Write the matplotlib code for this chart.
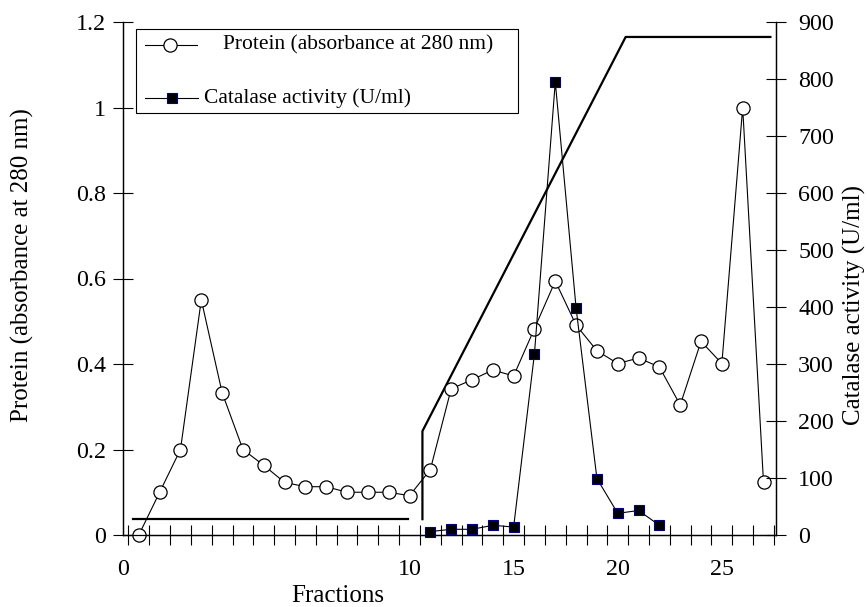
import matplotlib
matplotlib.use("Agg")
import matplotlib.pyplot as plt
from matplotlib.lines import Line2D
from matplotlib.patches import Rectangle

# ---- data ----
protein_x = list(range(1, 32))
protein = [0.00, 0.10, 0.20, 0.55, 0.333, 0.20, 0.163, 0.123, 0.113, 0.113,
           0.10, 0.10, 0.10, 0.092, 0.153, 0.342, 0.363, 0.386, 0.372, 0.483,
           0.594, 0.491, 0.431, 0.401, 0.414, 0.393, 0.304, 0.453, 0.401, 1.0,
           0.123]
catalase_x = list(range(15, 27))
catalase = [6, 10, 10, 17, 14, 318, 795, 398, 99, 38, 43, 17]
grad1_x = [0.71, 13.95]
grad1_y = [0.037, 0.037]
grad2_x = [14.62, 14.62, 24.38, 31.33]
grad2_y = [0.037, 0.243, 1.165, 1.165]
xlabel_texts = ["0", "10", "15", "20", "25"]
xlabel_pos = [0.24, 14, 19, 24, 29]
left_ticks = [0, 0.2, 0.4, 0.6, 0.8, 1.0, 1.2]
left_labels = ["0", "0.2", "0.4", "0.6", "0.8", "1", "1.2"]
right_ticks = [0, 100, 200, 300, 400, 500, 600, 700, 800, 900]
legend_labels = ["Protein (absorbance at 280 nm)", "Catalase activity (U/ml)"]

plt.rcParams['font.family'] = ['Liberation Serif', 'DejaVu Serif']
FS = 17.3
FS_LAB = 18
FS_LEG = 15.5

W, H = 867, 607
fig = plt.figure(figsize=(W / 100, H / 100), dpi=100)
ax = fig.add_axes([123/W, 1-535/H, (776-123)/W, (535-22)/H])
ax2 = ax.twinx()

ax.plot(protein_x, protein, color='black', lw=0.8, marker='o', ms=9.5,
        mfc='white', mec='black', mew=0.9, zorder=3, clip_on=False)
ax2.plot(catalase_x, catalase, color='black', lw=0.8, marker='s', ms=7,
         mfc='black', mec='#000080', mew=0.8, zorder=3, clip_on=False)
ax.plot(grad1_x, grad1_y, color='black', lw=1.6, zorder=2)
ax.plot(grad2_x, grad2_y, color='black', lw=1.6, zorder=2)

ax.set_xlim(0.5, 31.6)
ax.set_ylim(0, 1.2)
ax2.set_ylim(0, 900)

ax.set_xticks([i + 0.5 for i in range(0, 32)])
ax.set_xticklabels([])
ax.set_xticks(xlabel_pos, minor=True)
ax.set_xticklabels(xlabel_texts, minor=True, fontsize=FS)
ax.tick_params(axis='x', which='major', direction='inout', length=14, width=0.8)
ax.tick_params(axis='x', which='minor', length=0, pad=17)

ax.set_yticks(left_ticks)
ax.set_yticklabels(left_labels, fontsize=FS)
ax.tick_params(axis='y', direction='inout', length=14, width=0.8, pad=5)
ax2.set_yticks(right_ticks)
ax2.set_yticklabels([str(t) for t in right_ticks], fontsize=FS)
ax2.tick_params(axis='y', direction='inout', length=14, width=0.8, pad=9)

for a in (ax, ax2):
    a.spines['top'].set_visible(False)
    for s in ('left', 'right', 'bottom'):
        a.spines[s].set_linewidth(0.9)

ax.set_ylabel("Protein (absorbance at 280 nm)", fontsize=FS_LAB)
ax.yaxis.set_label_coords(-0.137, 0.526)
ax2.set_ylabel("Catalase activity (U/ml)", fontsize=FS_LAB, rotation=90)
ax2.yaxis.set_label_coords(1.1026, 0.448)
ax.set_xlabel("Fractions", fontsize=FS_LAB)
ax.xaxis.set_label_coords(0.329, -0.097)

# ---- legend box drawn in figure pixel coordinates ----
def fx(px):
    return px / W

def fy(py):
    return 1 - py / H

fig.patches.append(Rectangle((fx(136), fy(113)), fx(518) - fx(136), fy(29) - fy(113),
                             transform=fig.transFigure, fill=False, edgecolor='black',
                             linewidth=0.8, zorder=5))
fig.lines.append(Line2D([fx(145), fx(197)], [fy(45), fy(45)], transform=fig.transFigure,
                        color='black', lw=0.8, zorder=6))
fig.lines.append(Line2D([fx(170)], [fy(45)], transform=fig.transFigure, marker='o', ms=9.5,
                        mfc='white', mec='black', mew=0.9, ls='none', zorder=7))
fig.lines.append(Line2D([fx(145), fx(198)], [fy(98), fy(98)], transform=fig.transFigure,
                        color='black', lw=0.8, zorder=6))
fig.lines.append(Line2D([fx(172)], [fy(98)], transform=fig.transFigure, marker='s', ms=7,
                        mfc='black', mec='#000080', mew=0.8, ls='none', zorder=7))
fig.text(fx(223), fy(45), legend_labels[0], fontsize=FS_LEG, ha='left', va='center')
fig.text(fx(204), fy(98), legend_labels[1], fontsize=FS_LEG, ha='left', va='center')

fig.savefig("out.png", dpi=100)
